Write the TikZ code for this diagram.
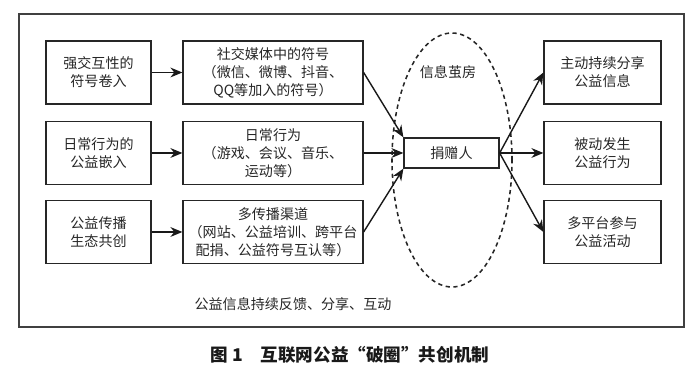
\documentclass[tikz,border=0pt]{standalone}
\usepackage{fontspec}
\setmainfont{Noto Sans CJK SC}
\usetikzlibrary{arrows.meta}

\begin{document}
\begin{tikzpicture}[every node/.style={font=\fontsize{10}{12.8}\selectfont, text=black!85},
  box/.style={draw=black!85, line width=0.9pt, align=center, inner sep=1pt, minimum height=1.575cm},
  srcbox/.style={box, minimum width=2.625cm},
  midbox/.style={box, minimum width=4.5cm},
  outbox/.style={box, minimum width=2.925cm},
  flow/.style={-{Stealth[length=8.5pt,width=7pt]}, line width=1pt, draw=black!90},
  cocoon/.style={dash pattern=on 3pt off 2.5pt, line width=1.1pt, draw=black!85}]
\useasboundingbox (0,0) rectangle (17.5,9.25);
\draw[black!75, line width=0.8pt] (0.475,1.075) rectangle (17.1,8.9);
\node[srcbox] (src1) at (2.4625,7.4375) {强交互性的\\符号卷入};
\node[srcbox] (src2) at (2.4625,5.425) {日常行为的\\公益嵌入};
\node[srcbox] (src3) at (2.4625,3.45) {公益传播\\生态共创};
\node[midbox] (sym1) at (6.825,7.4375) {社交媒体中的符号\\（微信、微博、抖音、\\QQ等加入的符号）};
\node[midbox] (sym2) at (6.825,5.425) {日常行为\\（游戏、会议、音乐、\\运动等）};
\node[midbox] (sym3) at (6.825,3.45) {多传播渠道\\（网站、公益培训、跨平台\\配捐、公益符号互认等）};
\draw[cocoon] (11.3,5.25) ellipse [x radius=1.5, y radius=3.175];
\node (cocoonlbl) at (11.2,7.45) {信息茧房};
\node[box, minimum width=2.375cm, minimum height=0.75cm] (donor) at (11.2875,5.425) {捐赠人};
\node[outbox] (out1) at (15.0625,7.4375) {主动持续分享\\公益信息};
\node[outbox] (out2) at (15.0625,5.425) {被动发生\\公益行为};
\node[outbox] (out3) at (15.0625,3.45) {多平台参与\\公益活动};
% inputs
\draw[flow] (src1) -- (sym1);
\draw[flow] (src2) -- (sym2);
\draw[flow] (src3) -- (sym3);
\draw[flow] (sym1.east) -- (donor.north west);
\draw[flow] (sym2) -- (donor);
\draw[flow] (sym3.east) -- (donor.south west);
% outputs
\draw[flow] (donor.east) -- (out1.west);
\draw[flow] (donor.east) -- (out2.west);
\draw[flow] (donor.east) -- (out3.west);
\node (feedback) at (7.325,1.65) {公益信息持续反馈、分享、互动};
\node[font=\fontsize{12.5}{15}\selectfont\bfseries, text=black!90] (caption) at (8.75,0.375) {图 1\quad 互联网公益“破圈”共创机制};
\end{tikzpicture}
\end{document}
